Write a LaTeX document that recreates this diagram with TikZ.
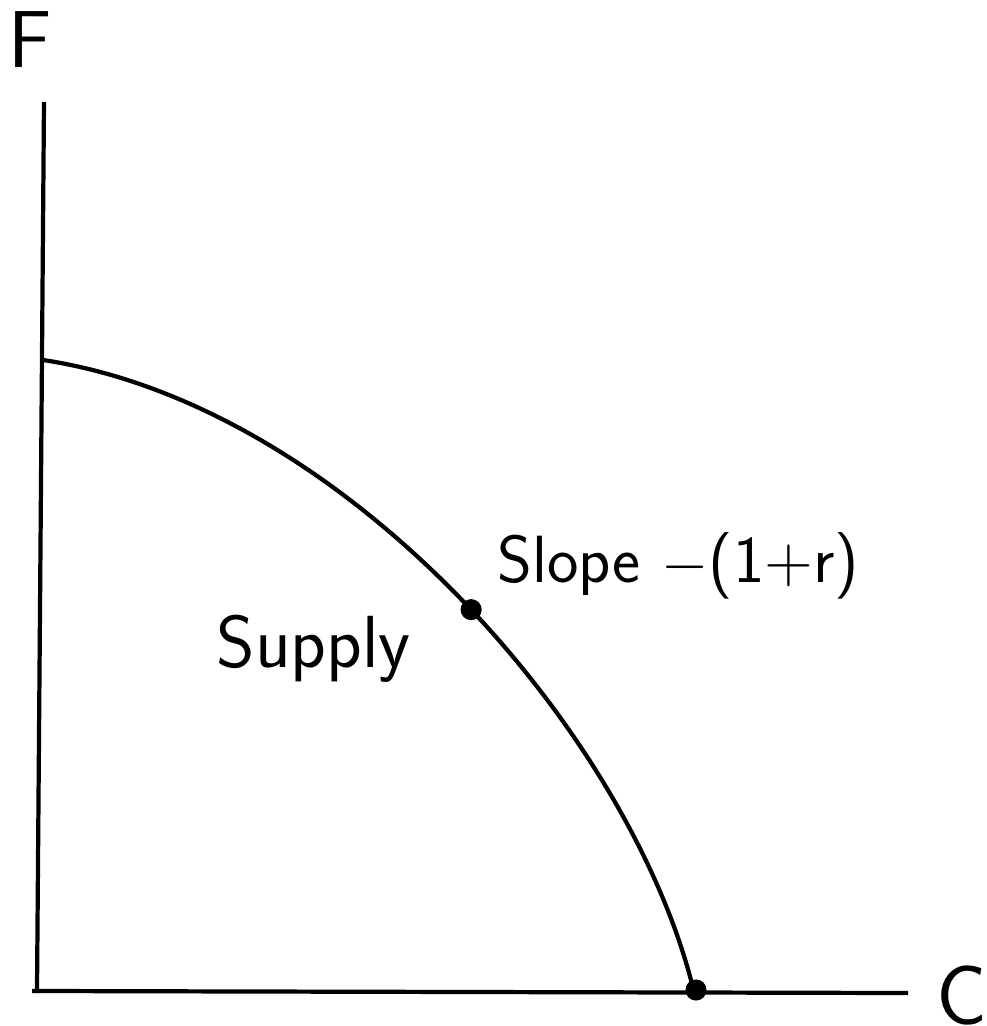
\documentclass[tikz,border=0pt]{standalone}
\usepackage{tikz}
\usetikzlibrary{calc}

\tikzset{
  axisline/.style={line width=1.2pt},
  curveline/.style={line width=1.2pt},
  handlabel/.style={font=\sffamily\fontsize{20}{24}\selectfont, inner sep=0pt},
  bigdot/.style={circle, fill=black, inner sep=0pt, minimum size=6pt}
}

\begin{document}
\begin{tikzpicture}[x=0.1mm,y=-0.1mm]
    \useasboundingbox (0,0) rectangle (987,1026);
    % axes
    \coordinate (origin) at (37,991);
    \coordinate (ftop) at (44,102);
    \coordinate (cend) at (908,993);
    \draw[axisline] (ftop) -- (origin) -- ($(origin)+(-5,0)$);
    \draw[axisline] (origin) -- (cend);
    \node[handlabel,font=\sffamily\fontsize{23}{26}\selectfont,anchor=base west] (flabel) at (8,67) {F};
    \node[handlabel,font=\sffamily\fontsize{24}{26}\selectfont,anchor=base west] (clabel) at (936,1024) {C};
    % supply curve
    \coordinate (fstart) at (43,360);
    \coordinate (cstart) at (694,992);
    \draw[curveline] (fstart) .. controls (348,406) and (633,738) .. (cstart)
      coordinate[pos=0.516] (tangency);
    \node[bigdot] (tandot) at (tangency) {};
    \node[bigdot] (cdot) at (696,990) {};
    \node[handlabel,font=\sffamily\fontsize{21}{24}\selectfont,anchor=base west] (supply) at (216,667) {Supply};
    \node[handlabel,font=\sffamily\fontsize{19}{22}\selectfont,anchor=base west] (slope) at (497,582) {Slope $-$(1+r)};
\end{tikzpicture}
\end{document}
